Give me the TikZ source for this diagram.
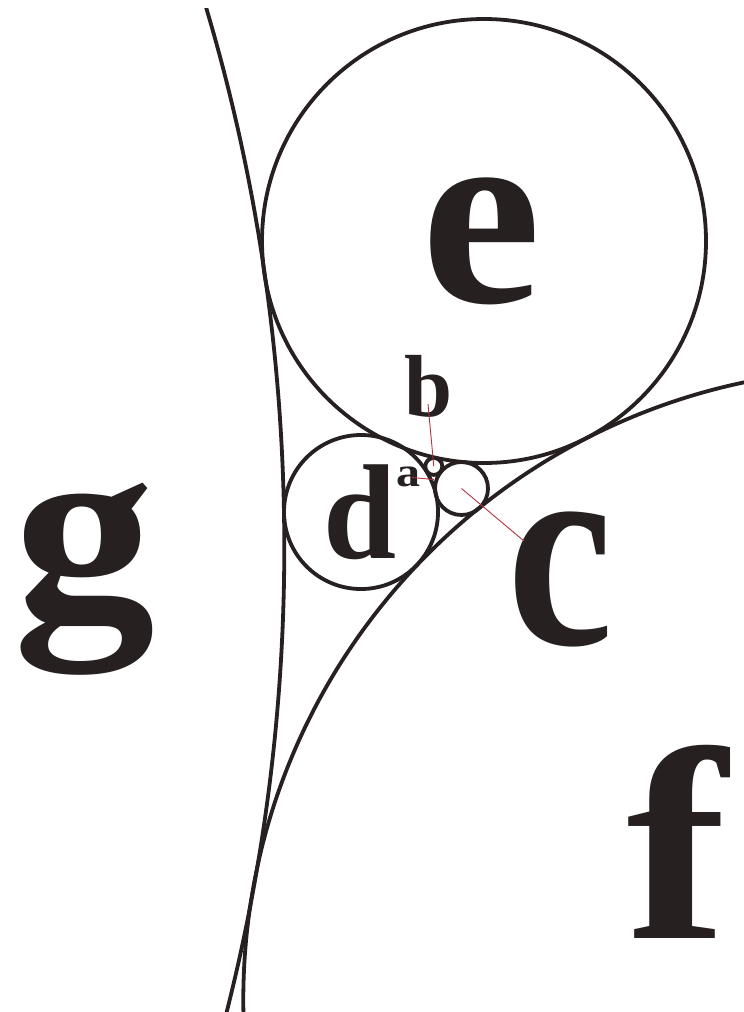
\documentclass[tikz,border=0pt]{standalone}
\usepackage{fontspec}
\setmainfont{Liberation Serif}
\usepackage{graphicx}
\definecolor{ink}{RGB}{38,32,33}
\definecolor{pinred}{RGB}{176,52,66}
\tikzset{
  curve/.style={draw=ink, line width=3.8pt},
  ring/.style={circle, draw=ink, line width=3.8pt, inner sep=0pt, outer sep=0pt},
  pin/.style={draw=pinred, line width=0.9pt},
  lbl/.style={inner sep=0pt, outer sep=0pt, text=ink, font=\bfseries},
}
\begin{document}
\begin{tikzpicture}[x=1pt, y=-1pt]
\useasboundingbox (0,0) rectangle (744,1012);
\fill[white] (0,0) rectangle (744,1012);
% circles
\node[ring, minimum size=444pt] (ce) at (484,241) {};
\node[ring, minimum size=154pt] (cd) at (361,512) {};
\node[ring, minimum size=53pt] (cc) at (461.5,488.5) {};
\node[ring, minimum size=17pt] (cb) at (433.8,466.4) {};
% big curves: circle g (left) and circle f (lower right)
\begin{scope}
\clip (0,8) rectangle (744,1012);
\draw[curve] (-1604.5,547.1) circle[radius=1888.8pt];
\end{scope}
\begin{scope}
\clip (0,0) rectangle (744,1012);
\draw[curve] (874.3,999.9) circle[radius=631pt];
\end{scope}
% labels
\node[lbl] (le) at (481.5,241.5) {\resizebox*{120pt}{127pt}{e}};
\node[lbl] (lb) at (428.5,386) {\resizebox*{48pt}{62pt}{b}};
\node[lbl] (ld) at (360,512.5) {\resizebox*{73pt}{95pt}{d}};
\node[lbl] (la) at (408.5,477) {\resizebox*{24pt}{20pt}{a}};
\node[lbl] (lc) at (561,579.5) {\resizebox*{106pt}{135pt}{c}};
\node[lbl] (lg) at (84,579) {\resizebox*{142pt}{192pt}{g}};
\node[lbl] (lf) at (677.5,841.5) {\resizebox*{101pt}{193pt}{f}};
% pointer lines
\coordinate (bstart) at (428,404);
\coordinate (astart) at (412,477.5);
\coordinate (aend) at (434,479.5);
\coordinate (cstart) at (524,541);
\draw[pin] (bstart) -- (cb.center);
\draw[pin] (astart) -- (aend);
\draw[pin] (cc.center) -- (cstart);
\end{tikzpicture}
\end{document}
